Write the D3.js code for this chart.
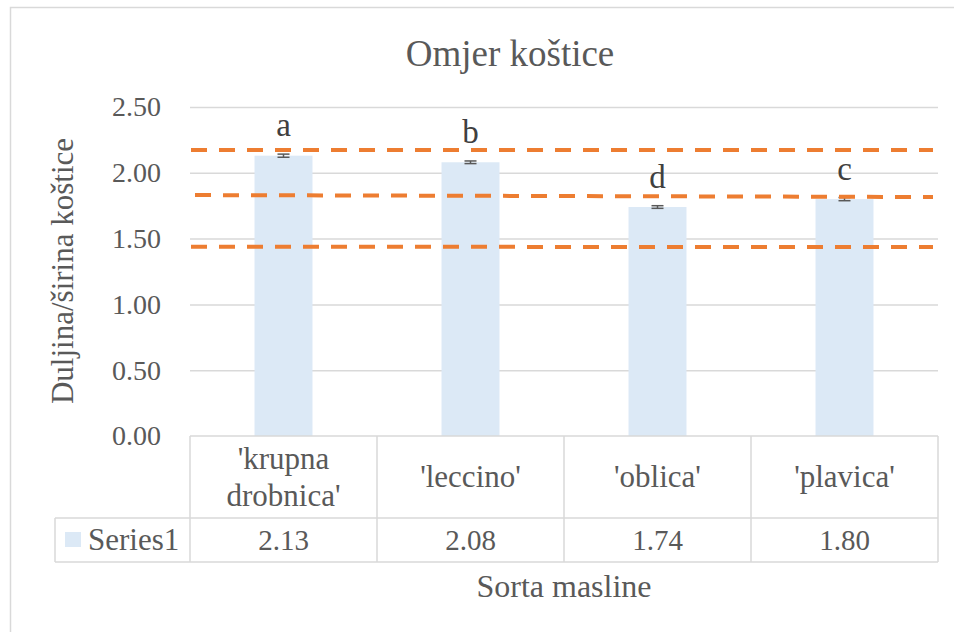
<!DOCTYPE html>
<html>
<head>
<meta charset="utf-8">
<script src="https://cdn.jsdelivr.net/npm/d3@7"></script>
<style>
  body { margin: 0; background: #fff; }
  svg text { font-family: 'Liberation Serif', 'Times New Roman', serif; fill: #595959; }
</style>
</head>
<body>
<div id="chart"></div>
<script>
// data
var categories = ["'krupna drobnica'", "'leccino'", "'oblica'", "'plavica'"];
var labelLines = [["'krupna", "drobnica'"], ["'leccino'"], ["'oblica'"], ["'plavica'"]];
var values = [2.13, 2.08, 1.74, 1.80];
var errors = [0.012, 0.010, 0.010, 0.012];
var letters = ["a", "b", "d", "c"];
var yTicks = [0, 0.5, 1, 1.5, 2, 2.5];
// orange dashed reference lines (value at left end, value at right end)
var refStart = [2.173, 1.831, 1.438];
var refEnd = [2.173, 1.816, 1.436];

var W = 954, H = 632;
var plot = {left: 190, right: 938, top: 107, bottom: 436};
var rowSplit = 518, tableBottom = 562, legendLeft = 55;

var svg = d3.select("#chart").append("svg")
    .attr("width", W)
    .attr("height", H);

// chart border
svg.append("rect")
    .attr("x", 10.5).attr("y", 7.5)
    .attr("width", W + 10).attr("height", H + 10)
    .attr("fill", "none")
    .attr("stroke", "#d9d9d9")
    .attr("stroke-width", 1.5);

var x = d3.scaleBand()
    .domain(categories)
    .range([plot.left, plot.right])
    .padding(0);

var y = d3.scaleLinear()
    .domain([0, 2.5])
    .range([plot.bottom, plot.top]);

// title
svg.append("text")
    .attr("x", 510).attr("y", 66)
    .attr("text-anchor", "middle")
    .style("font-size", "37px")
    .text("Omjer koštice");

// gridlines + y axis labels
var yAxis = svg.append("g")
    .attr("transform", `translate(${plot.left},0)`)
    .call(d3.axisLeft(y).tickValues(yTicks)
        .tickSize(-(plot.right - plot.left))
        .tickPadding(29)
        .tickFormat(d3.format(".2f")));
yAxis.attr("font-family", null);
yAxis.select(".domain").remove();
yAxis.selectAll(".tick line")
    .attr("stroke", "#d9d9d9")
    .attr("stroke-width", 1.5)
    .filter(d => d === 0).remove();
yAxis.selectAll(".tick text")
    .attr("fill", "#595959")
    .style("font-size", "28px");

// y axis title
svg.append("text")
    .attr("transform", "translate(73,271) rotate(-90)")
    .attr("text-anchor", "middle")
    .style("font-size", "31px")
    .text("Duljina/širina koštice");

// bars
var barW = x.bandwidth() * 0.31;
svg.append("g").selectAll("rect")
    .data(values)
    .enter()
    .append("rect")
    .attr("x", (d, i) => x(categories[i]) + x.bandwidth() / 2 - barW / 2)
    .attr("y", d => y(d))
    .attr("width", barW)
    .attr("height", d => y(0) - y(d))
    .attr("fill", "#dce9f6");

// error bars
var eb = svg.append("g").attr("stroke", "#595959").attr("stroke-width", 1.5);
values.forEach(function(v, i) {
    var cx = x(categories[i]) + x.bandwidth() / 2;
    eb.append("line").attr("x1", cx).attr("x2", cx)
        .attr("y1", y(v + errors[i])).attr("y2", y(v - errors[i]));
    [v + errors[i], v - errors[i]].forEach(function(e) {
        eb.append("line").attr("x1", cx - 6).attr("x2", cx + 6)
            .attr("y1", y(e)).attr("y2", y(e));
    });
});

// significance letters
svg.append("g").selectAll("text")
    .data(letters)
    .enter()
    .append("text")
    .attr("x", (d, i) => x(categories[i]) + x.bandwidth() / 2)
    .attr("y", (d, i) => y(values[i] + errors[i]) - 18)
    .attr("text-anchor", "middle")
    .style("font-size", "33px")
    .style("fill", "#404040")
    .text(d => d);

// dashed reference lines
svg.append("g").selectAll("line")
    .data(refStart)
    .enter()
    .append("line")
    .attr("x1", plot.left + 1)
    .attr("x2", 933)
    .attr("y1", d => y(d))
    .attr("y2", (d, i) => y(refEnd[i]))
    .attr("stroke", "#ed7d31")
    .attr("stroke-width", 4)
    .attr("stroke-dasharray", "16,12")
    .attr("stroke-dashoffset", (d, i) => i === 1 ? 24 : 0);

// data table
var tbl = svg.append("g").attr("stroke", "#d9d9d9").attr("stroke-width", 1.5);
tbl.append("line").attr("x1", plot.left).attr("x2", plot.right)
    .attr("y1", plot.bottom).attr("y2", plot.bottom);
tbl.append("line").attr("x1", legendLeft).attr("x2", plot.right)
    .attr("y1", rowSplit).attr("y2", rowSplit);
tbl.append("line").attr("x1", legendLeft).attr("x2", plot.right)
    .attr("y1", tableBottom).attr("y2", tableBottom);
tbl.append("line").attr("x1", legendLeft).attr("x2", legendLeft)
    .attr("y1", rowSplit).attr("y2", tableBottom);
categories.concat([null]).forEach(function(c) {
    var xx = c === null ? plot.right : x(c);
    tbl.append("line").attr("x1", xx).attr("x2", xx)
        .attr("y1", plot.bottom).attr("y2", tableBottom);
});

// category labels
var rowMid = (plot.bottom + rowSplit) / 2;
labelLines.forEach(function(lines, i) {
    var t = svg.append("text")
        .attr("text-anchor", "middle")
        .style("font-size", "31px");
    lines.forEach(function(l, j) {
        t.append("tspan")
            .attr("x", x(categories[i]) + x.bandwidth() / 2)
            .attr("y", rowMid + 10 + (j - (lines.length - 1) / 2) * 37)
            .text(l);
    });
});

// value row
var valMid = (rowSplit + tableBottom) / 2;
svg.append("g").selectAll("text")
    .data(values)
    .enter()
    .append("text")
    .attr("x", (d, i) => x(categories[i]) + x.bandwidth() / 2)
    .attr("y", valMid + 10)
    .attr("text-anchor", "middle")
    .style("font-size", "29px")
    .text(d => d3.format(".2f")(d));

// legend key
svg.append("rect")
    .attr("x", 65).attr("y", 532)
    .attr("width", 16).attr("height", 15)
    .attr("fill", "#dce9f6");
svg.append("text")
    .attr("x", 88).attr("y", valMid + 10)
    .style("font-size", "31px")
    .text("Series1");

// x axis title
svg.append("text")
    .attr("x", 564).attr("y", 597)
    .attr("text-anchor", "middle")
    .style("font-size", "32px")
    .text("Sorta masline");
</script>
</body>
</html>
